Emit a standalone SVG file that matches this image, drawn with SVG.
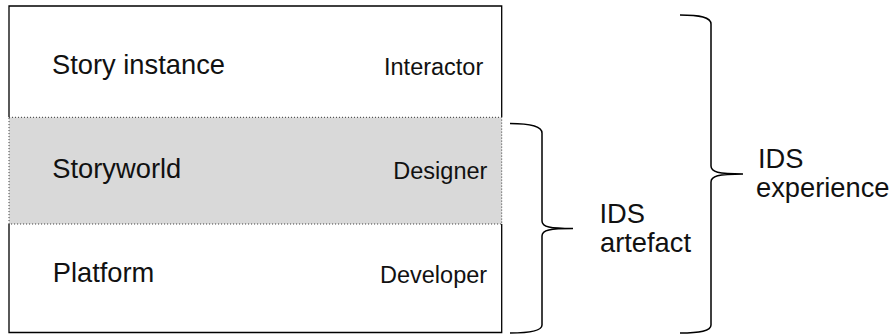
<svg xmlns="http://www.w3.org/2000/svg" width="895" height="334" viewBox="0 0 895 334">
<style>
  text { font-family: "Liberation Sans", Arial, sans-serif; fill: #111; }
  .big { font-size: 27.3px; }
  .small { font-size: 23.5px; }
  .brace { fill: none; stroke: #000; stroke-width: 1.5; }
  .edge { fill: none; stroke: #000; stroke-width: 1.3; }
</style>
<rect width="895" height="334" fill="#fff"/>
<g id="story-instance">
  <path class="edge" d="M9,117.3 V6 H501.7 V117.3"/>
  <text class="big" x="52" y="74">Story instance</text>
  <text class="small" x="384" y="75">Interactor</text>
</g>
<g id="storyworld">
  <rect x="9" y="117.3" width="492.7" height="106.7" fill="#d9d9d9" stroke="#333" stroke-width="1" stroke-dasharray="1 2"/>
  <text class="big" x="52.3" y="178.3">Storyworld</text>
  <text class="small" x="393.3" y="179">Designer</text>
</g>
<g id="platform">
  <path class="edge" d="M9,224 V332.5 H501.7 V224"/>
  <text class="big" x="52.7" y="281.7">Platform</text>
  <text class="small" x="380" y="283">Developer</text>
</g>
<g id="connectors">
  <path id="brace-artefact" class="brace" d="M510,123.5 C530,123.5 542,126 542,133 L542,221 C542,227 550,228.5 573,228.5 C550,228.5 542,230 542,236 L542,325 C542,331 530,333 510,333"/>
  <path id="brace-experience" class="brace" d="M680,15 C700,15 711,17 711,24 L711,166 C711,172 718,174 743,174 C718,174 711,176 711,182 L711,325 C711,331 700,333 680,333"/>
</g>
<g id="ids-artefact">
  <text class="big" x="599.5" y="222.5">IDS</text>
  <text class="big" x="600" y="251.7">artefact</text>
</g>
<g id="ids-experience">
  <text class="big" x="758" y="167.5">IDS</text>
  <text class="big" x="756" y="196.7">experience</text>
</g>
</svg>
